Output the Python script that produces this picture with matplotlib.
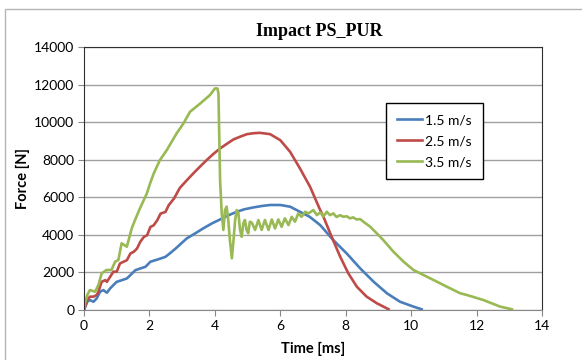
import matplotlib
matplotlib.use("Agg")
import matplotlib.pyplot as plt
from matplotlib.patches import Rectangle

# Force vs time
t_15 = [0, 0.1, 0.18, 0.29, 0.39, 0.49, 0.59, 0.7, 0.8, 0.9, 1.0, 1.16, 1.31, 1.42,
        1.57, 1.72, 1.88, 2.03, 2.18, 2.34, 2.49, 2.65, 2.8, 3.14, 3.4, 3.65, 3.9,
        4.16, 4.4, 4.67, 4.9, 5.18, 5.45, 5.69, 6.0, 6.3, 6.6, 6.9, 7.22, 7.62, 8.03,
        8.44, 8.85, 9.26, 9.66, 10.07, 10.32]
f_15 = [0, 440, 530, 440, 620, 970, 1060, 920, 1150, 1330, 1500, 1590, 1680, 1860,
        2120, 2210, 2300, 2570, 2650, 2740, 2830, 3050, 3270, 3810, 4080, 4350, 4600,
        4820, 5030, 5230, 5360, 5460, 5540, 5590, 5590, 5500, 5230, 4960, 4520, 3720,
        3010, 2220, 1510, 890, 440, 180, 40]

t_25 = [0, 0.1, 0.18, 0.29, 0.39, 0.44, 0.54, 0.65, 0.7, 0.8, 0.9, 1.0, 1.1, 1.21,
        1.31, 1.42, 1.52, 1.62, 1.72, 1.83, 1.93, 2.03, 2.13, 2.24, 2.34, 2.49, 2.59,
        2.75, 2.93, 3.14, 3.34, 3.55, 3.75, 3.95, 4.16, 4.37, 4.57, 4.78, 4.98, 5.18,
        5.38, 5.69, 6.0, 6.3, 6.6, 6.91, 7.22, 7.32, 7.57, 7.83, 8.08, 8.34, 8.64,
        8.95, 9.31]
f_25 = [0, 530, 710, 710, 800, 970, 1500, 1590, 1500, 1770, 2040, 2040, 2480, 2570,
        2650, 3010, 3100, 3270, 3630, 3890, 3980, 4420, 4510, 4780, 5130, 5220, 5580,
        5930, 6500, 6900, 7270, 7640, 7980, 8300, 8600, 8850, 9080, 9230, 9360, 9410,
        9430, 9360, 9040, 8420, 7540, 6560, 5320, 4960, 3900, 2840, 1950, 1240, 710,
        360, 40]

t_35 = [0, 0.03, 0.1, 0.18, 0.34, 0.44, 0.54, 0.69, 0.84, 0.95, 1.05, 1.15, 1.31,
        1.46, 1.56, 1.71, 1.92, 2.02, 2.13, 2.32, 2.53, 2.83, 3.04, 3.24, 3.55, 3.85,
        4.0, 4.08, 4.11, 4.16, 4.21, 4.26, 4.31, 4.36, 4.41, 4.46, 4.52, 4.57, 4.62,
        4.67, 4.72, 4.77, 4.82, 4.87, 4.92, 4.97, 5.02, 5.07, 5.13, 5.23, 5.33, 5.43,
        5.53, 5.64, 5.74, 5.84, 5.94, 6.04, 6.14, 6.25, 6.35, 6.45, 6.55, 6.65, 6.76,
        6.86, 7.01, 7.12, 7.22, 7.32, 7.42, 7.52, 7.62, 7.72, 7.83, 7.93, 8.03, 8.13,
        8.23, 8.33, 8.44, 8.54, 8.75, 8.95, 9.15, 9.46, 9.77, 10.07, 10.38, 10.68,
        11.09, 11.5, 11.7, 12.21, 12.72, 13.08]
f_35 = [0, 360, 800, 1060, 975, 1330, 1950, 2130, 2130, 2570, 2660, 3550, 3370,
        4350, 4790, 5410, 6200, 6740, 7260, 7980, 8510, 9400, 9930, 10550, 10990,
        11440, 11790, 11790, 11520, 6910, 5140, 4260, 5320, 5500, 4790, 3720, 2750,
        3720, 4790, 5320, 5140, 4260, 3900, 4610, 4790, 4260, 4080, 4700, 4650, 4260,
        4790, 4260, 4790, 4260, 4820, 4340, 4820, 4430, 4880, 4520, 4960, 4700, 5140,
        4960, 5230, 5140, 5320, 5050, 5200, 4980, 5230, 5050, 5140, 4950, 5050, 4960,
        4990, 4880, 4930, 4820, 4840, 4700, 4430, 4080, 3720, 3100, 2570, 2130, 1860,
        1600, 1240, 890, 800, 530, 180, 40]

labels = ["1.5 m/s", "2.5 m/s", "3.5 m/s"]
colors = ["#4a7ebb", "#be4b48", "#98b954"]

plt.rcParams["font.family"] = ["Lato", "DejaVu Sans"]

fig = plt.figure(figsize=(5.82, 3.6), dpi=100)
ax = fig.add_axes([84 / 582, 50 / 360, 458 / 582, 263 / 360])

# light outer chart border
fig.add_artist(Rectangle((5 / 582, -0.2), 1.2, 1 - 9 / 360 + 0.2,
                         transform=fig.transFigure, fill=False,
                         edgecolor="#b4b4b4", linewidth=1.0))

for t, f, lab, c in zip([t_15, t_25, t_35], [f_15, f_25, f_35], labels, colors):
    ax.plot(t, f, color=c, linewidth=1.9, label=lab)

ax.set_xlim(0, 14)
ax.set_ylim(0, 14000)
ax.set_xticks(range(0, 15, 2))
ax.set_yticks(range(0, 14001, 2000))
ax.grid(axis="y", color="#a0a0a0", linewidth=1.0)
ax.set_axisbelow(True)
ax.tick_params(labelsize=10, length=4, color="#888888", pad=3)

for s in ["top", "right", "left"]:
    ax.spines[s].set_color("#303030")
ax.spines["bottom"].set_color("#888888")

ax.set_xlabel("Time [ms]", fontsize=10.5, fontweight="bold", labelpad=7)
ax.set_ylabel("Force [N]", fontsize=10.5, fontweight="bold", labelpad=3)
fig.text(319 / 582, 1 - 32 / 360, "Impact PS_PUR", ha="center", va="center",
         fontsize=13, fontweight="bold", family="Liberation Serif")

leg = ax.legend(loc="upper left", bbox_to_anchor=((386 - 84) / 458, (310 - 103) / 263),
                borderaxespad=0, fancybox=False, edgecolor="black", framealpha=1,
                fontsize=10, labelspacing=0.65, handlelength=1.8, handletextpad=0.2,
                borderpad=0.8)
leg.get_frame().set_linewidth(1.0)

fig.savefig("out.png", dpi=100)
